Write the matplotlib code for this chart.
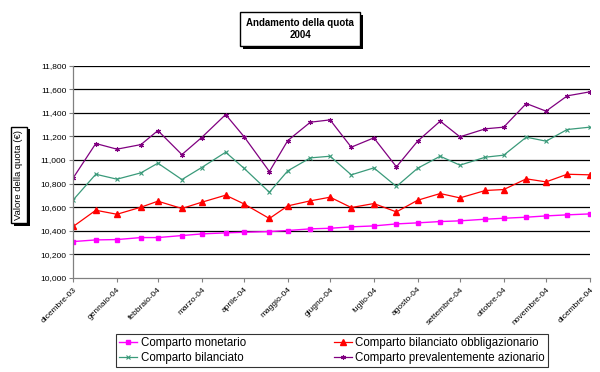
import datetime as dt
import matplotlib
matplotlib.use('Agg')
import matplotlib.pyplot as plt
import matplotlib.dates as mdates
import matplotlib.patheffects as pe
from matplotlib.ticker import FixedLocator, FuncFormatter

plt.rcParams['font.family'] = ['Liberation Sans', 'DejaVu Sans']

# Dates (end of month + mid month valuations)
mid_days = [16, 17, 17, 17, 18, 16, 15, 16, 16, 18, 16, 15]
month_ends = [dt.date(2003, 12, 31), dt.date(2004, 1, 31), dt.date(2004, 2, 29),
              dt.date(2004, 3, 31), dt.date(2004, 4, 30), dt.date(2004, 5, 31),
              dt.date(2004, 6, 30), dt.date(2004, 7, 31), dt.date(2004, 8, 31),
              dt.date(2004, 9, 30), dt.date(2004, 10, 31), dt.date(2004, 11, 30),
              dt.date(2004, 12, 31)]
month_labels = ['dicembre-03', 'gennaio-04', 'febbraio-04', 'marzo-04', 'aprile-04',
                'maggio-04', 'giugno-04', 'luglio-04', 'agosto-04', 'settembre-04',
                'ottobre-04', 'novembre-04', 'dicembre-04']

dates = [month_ends[0]]
for m in range(12):
    dates.append(dt.date(2004, m + 1, mid_days[m]))
    dates.append(month_ends[m + 1])

# Values (euro)
monetario = [10.307, 10.321, 10.324, 10.341, 10.341, 10.358, 10.372, 10.381, 10.386,
             10.392, 10.401, 10.415, 10.420, 10.432, 10.440, 10.457, 10.466, 10.477,
             10.483, 10.497, 10.505, 10.514, 10.525, 10.534, 10.542]
obbligazionario = [10.435, 10.573, 10.539, 10.599, 10.650, 10.588, 10.641, 10.701, 10.627,
                   10.503, 10.610, 10.653, 10.684, 10.596, 10.630, 10.559, 10.658, 10.715,
                   10.678, 10.741, 10.749, 10.840, 10.814, 10.879, 10.874]
bilanciato = [10.661, 10.879, 10.837, 10.891, 10.973, 10.834, 10.936, 11.066, 10.930,
              10.726, 10.908, 11.018, 11.032, 10.874, 10.933, 10.775, 10.930, 11.032,
              10.956, 11.024, 11.041, 11.194, 11.160, 11.259, 11.279]
azionario = [10.848, 11.140, 11.092, 11.131, 11.250, 11.046, 11.191, 11.386, 11.199,
             10.902, 11.165, 11.321, 11.341, 11.109, 11.188, 10.942, 11.160, 11.330,
             11.197, 11.265, 11.279, 11.480, 11.415, 11.545, 11.579]

y_ticks = [10.0, 10.2, 10.4, 10.6, 10.8, 11.0, 11.2, 11.4, 11.6, 11.8]

fig = plt.figure(figsize=(6, 3.72), dpi=100)
ax = fig.add_axes([0.122, 0.2535, 0.861, 0.5695])

l1, = ax.plot(dates, monetario, color='#FF00FF', lw=1, marker='s', ms=3.2, label='Comparto monetario')
l2, = ax.plot(dates, obbligazionario, color='#FF0000', lw=0.9, marker='^', ms=4, label='Comparto bilanciato obbligazionario')
l3, = ax.plot(dates, bilanciato, color='#3A9A7A', lw=0.9, marker='x', ms=3, mew=0.8, label='Comparto bilanciato')
l4, = ax.plot(dates, azionario, color='#800080', lw=0.9, marker=(6, 2, 0), ms=3.5, mew=0.8, label='Comparto prevalentemente azionario')

ax.set_xlim(month_ends[0], month_ends[-1])
ax.set_ylim(10.0, 11.8)
ax.xaxis.set_major_locator(FixedLocator(mdates.date2num(month_ends)))
ax.set_xticklabels(month_labels, rotation=45, ha='right', rotation_mode='anchor', fontsize=6)
ax.set_yticks(y_ticks)
ax.yaxis.set_major_formatter(FuncFormatter(lambda v, p: f'{v:.3f}'.replace('.', ',')))
ax.tick_params(axis='y', labelsize=6, length=3, width=0.8, color='#808080', pad=2)
ax.tick_params(axis='x', length=3, width=0.8, color='#808080', pad=3)

for v in y_ticks[1:]:
    ax.axhline(v, color='black', lw=0.9, zorder=0)
for s in ['top', 'right']:
    ax.spines[s].set_visible(False)
for s in ['left', 'bottom']:
    ax.spines[s].set_color('#808080')
    ax.spines[s].set_linewidth(0.9)

# Title box with shadow
t = fig.text(0.5, 1 - 29 / 372, 'Andamento della quota\n2004', ha='center', va='center',
             fontsize=7, fontweight='bold', linespacing=1.3,
             bbox=dict(boxstyle='square,pad=0.6', fc='white', ec='black', lw=1))
t.get_bbox_patch().set_path_effects([pe.SimplePatchShadow(offset=(2, -2), shadow_rgbFace='black', alpha=1), pe.Normal()])

yl = fig.text(19 / 600, 1 - 175 / 372, 'Valore della quota (€)', rotation=90, ha='center', va='center',
              fontsize=6.8, bbox=dict(boxstyle='square,pad=0.35', fc='white', ec='black', lw=1))
yl.get_bbox_patch().set_path_effects([pe.SimplePatchShadow(offset=(2, -2), shadow_rgbFace='black', alpha=1), pe.Normal()])

leg = fig.legend(handles=[l1, l3, l2, l4], loc='center', ncol=2,
                 bbox_to_anchor=(332 / 600, 1 - 350.5 / 372), fontsize=8.3,
                 frameon=True, fancybox=False, edgecolor='black', handlelength=1.6,
                 handletextpad=0.3, columnspacing=7.6, borderpad=0.25, labelspacing=0.2,
                 borderaxespad=0)
leg.get_frame().set_linewidth(0.8)

fig.savefig('out.png', dpi=100)
